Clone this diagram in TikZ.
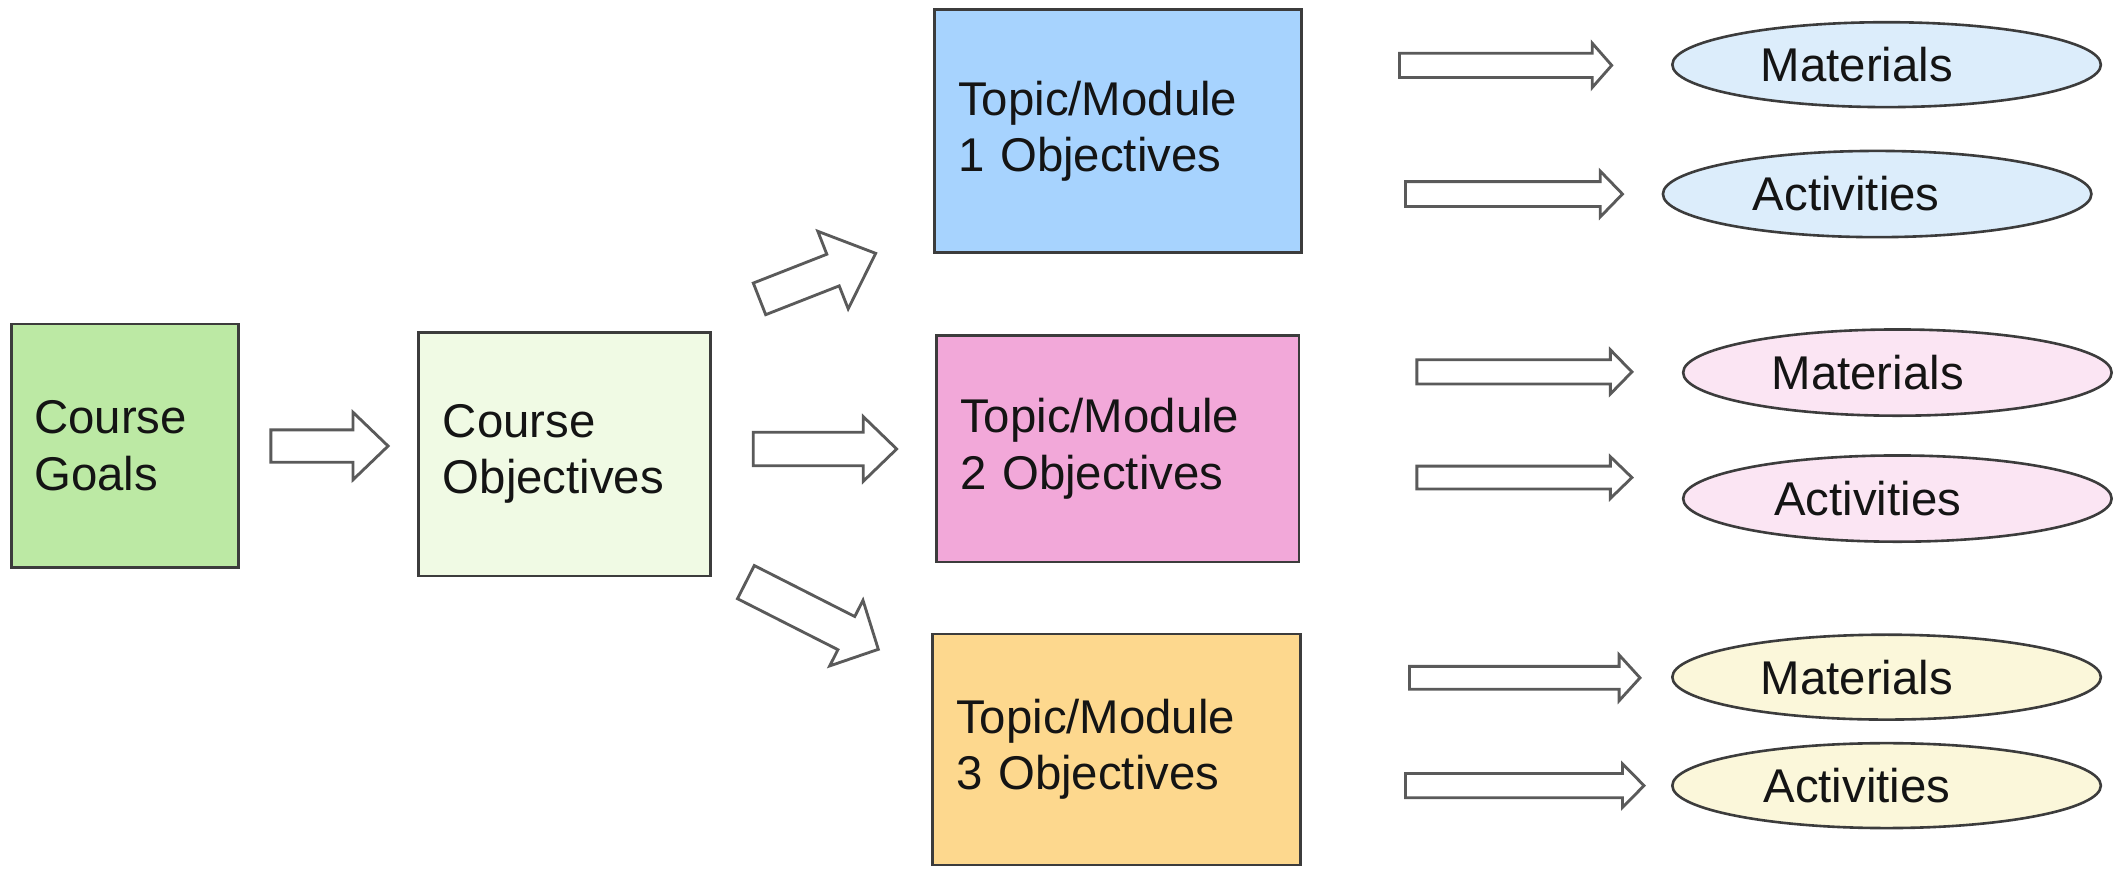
\documentclass[tikz,border=0pt]{standalone}
\usepackage{fontspec}
\setmainfont{Liberation Sans}
\usetikzlibrary{shapes.geometric}
\definecolor{cgoal}{HTML}{BCE9A4}
\definecolor{cobj}{HTML}{F0FAE4}
\definecolor{ctopa}{HTML}{A7D3FE}
\definecolor{ctopb}{HTML}{F2A8D9}
\definecolor{ctopc}{HTML}{FDD88E}
\definecolor{ella}{HTML}{DCEDFB}
\definecolor{ellb}{HTML}{FBE5F3}
\definecolor{ellc}{HTML}{FBF7DA}
\definecolor{edge}{HTML}{3C3C3C}
\definecolor{arrowgray}{HTML}{5A5A5A}
\definecolor{txt}{HTML}{141414}
\tikzset{
  txtfont/.style={font=\fontsize{10}{11.9}\selectfont, text=txt},
  box/.style={draw=edge, line width=0.6pt, rectangle, align=left, txtfont, inner ysep=0pt},
  oval/.style={draw=edge, line width=0.55pt, ellipse, minimum width=31.8mm, minimum height=6.3mm, inner sep=0pt},
  ovaltext/.style={txtfont, inner sep=0pt},
  arrowline/.style={draw=arrowgray, line width=0.6pt, fill=white, line join=miter},
  pics/barrow/.style n args={4}{code={
    \draw[arrowline] (0,-#2) -- ({#1-#4},-#2) -- ({#1-#4},-#3) -- (#1,0) -- ({#1-#4},#3) -- ({#1-#4},#2) -- (0,#2) -- cycle;
  }}
}
\begin{document}
\begin{tikzpicture}[x=0.1mm,y=-0.1mm]
\useasboundingbox[fill=white] (0,0) rectangle (1568,647);

% left boxes
\node[box, fill=cgoal, minimum width=16.85mm, minimum height=18.06mm, text width=13.45mm, inner xsep=1.7mm] (goals) at (92.75,330.7) {Course\\Goals};
\node[box, fill=cobj, minimum width=21.67mm, minimum height=18.08mm, text width=18.07mm, inner xsep=1.8mm] (obj) at (419,337) {Course\\Objectives};

% topic boxes
\node[box, fill=ctopa, minimum width=27.26mm, minimum height=18.06mm, text width=23.74mm, inner xsep=1.76mm] (t1) at (829.7,97.2) {Topic/Module\\1 Objectives};
\node[box, fill=ctopb, minimum width=26.9mm, minimum height=16.8mm, text width=23.4mm, inner xsep=1.75mm] (t2) at (829.5,333) {Topic/Module\\2 Objectives};
\node[box, fill=ctopc, minimum width=27.3mm, minimum height=17.15mm, text width=23.8mm, inner xsep=1.75mm] (t3) at (828.5,556.2) {Topic/Module\\3 Objectives};

% block arrows
\pic at (201,331) {barrow={87}{12}{25}{26}};
\pic at (559,333.2) {barrow={106.4}{12.4}{24}{24.8}};
\pic[rotate=21.4] at (563.6,221.8) {barrow={92.6}{12.6}{30.9}{34}};
\pic[rotate=-26.9] at (553.5,432) {barrow={110.2}{13.8}{27.3}{26.6}};

\pic at (1038.5,48.5) {barrow={157.5}{9}{16.5}{14.5}};
\pic at (1043,144) {barrow={161}{9.2}{17}{16.5}};
\pic at (1051.4,276) {barrow={159.6}{9}{16.4}{16}};
\pic at (1051.4,354.4) {barrow={159.6}{8.5}{15.5}{16}};
\pic at (1046,503) {barrow={171}{8.5}{17}{15.5}};
\pic at (1043,583) {barrow={177}{9}{16.2}{16}};

% ellipses
\node[oval, fill=ella] (m1) at (1400,48) {};
\node[oval, fill=ella, minimum height=6.4mm] (a1) at (1393,144) {};
\node[oval, fill=ellb, minimum height=6.4mm] (m2) at (1408,276.5) {};
\node[oval, fill=ellb, minimum height=6.4mm] (a2) at (1408,370) {};
\node[oval, fill=ellc] (m3) at (1400,502.5) {};
\node[oval, fill=ellc] (a3) at (1400,583) {};

\node[ovaltext] (m1t) at ([xshift=-2.2mm]m1.center) {Materials};
\node[ovaltext] (a1t) at ([xshift=-2.3mm]a1.center) {Activities};
\node[ovaltext] (m2t) at ([xshift=-2.2mm]m2.center) {Materials};
\node[ovaltext] (a2t) at ([xshift=-2.2mm]a2.center) {Activities};
\node[ovaltext] (m3t) at ([xshift=-2.2mm]m3.center) {Materials};
\node[ovaltext] (a3t) at ([xshift=-2.2mm]a3.center) {Activities};
\end{tikzpicture}
\end{document}
